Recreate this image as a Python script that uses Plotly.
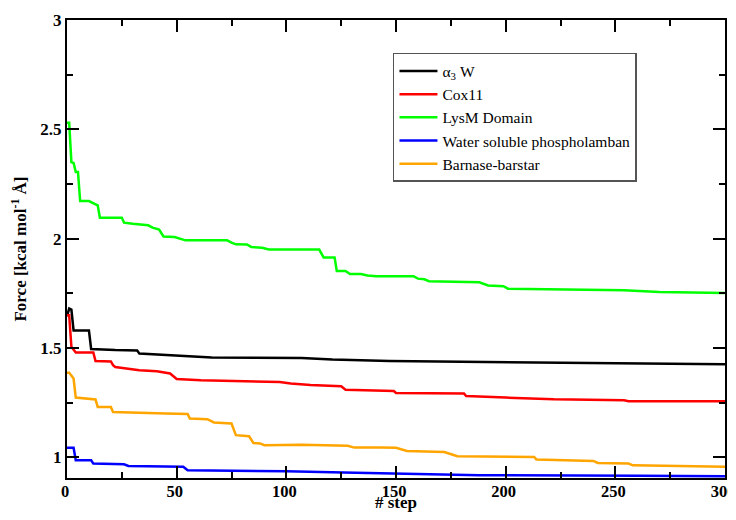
import plotly.graph_objects as go

# ---- data ----
black_x = [0, 1, 2, 3, 10, 11, 22, 32, 33, 49, 55, 66, 107, 121, 147, 181, 243, 300]
black_y = [1.645, 1.68, 1.675, 1.58, 1.58, 1.495, 1.49, 1.488, 1.474, 1.466, 1.462, 1.456, 1.454, 1.447, 1.44, 1.436, 1.43, 1.425]

red_x = [0, 1, 2, 4, 12, 13, 20, 21, 22, 27, 33, 41, 47, 50, 61, 97, 102, 111, 116, 125, 127, 149, 150, 181, 182, 190, 200, 222, 254, 256, 300]
red_y = [1.65, 1.65, 1.505, 1.479, 1.479, 1.44, 1.438, 1.421, 1.413, 1.405, 1.398, 1.393, 1.383, 1.358, 1.352, 1.344, 1.337, 1.33, 1.329, 1.325, 1.309, 1.303, 1.294, 1.291, 1.28, 1.276, 1.273, 1.265, 1.261, 1.256, 1.256]

green_x = [0, 1, 2, 3, 4, 5, 6, 10, 14, 15, 25, 26, 30, 37, 39, 42, 44, 49, 54, 73, 75, 77, 82, 84, 89, 92, 115, 117, 122, 123, 127, 129, 134, 137, 141, 158, 160, 163, 165, 188, 192, 199, 201, 254, 270, 300]
green_y = [2.53, 2.53, 2.35, 2.346, 2.305, 2.305, 2.172, 2.172, 2.152, 2.096, 2.096, 2.073, 2.068, 2.061, 2.05, 2.041, 2.01, 2.007, 1.992, 1.992, 1.982, 1.974, 1.973, 1.962, 1.958, 1.95, 1.95, 1.914, 1.914, 1.852, 1.852, 1.838, 1.838, 1.831, 1.828, 1.828, 1.817, 1.814, 1.805, 1.80, 1.786, 1.782, 1.771, 1.764, 1.756, 1.751]

blue_x = [0, 1, 3, 4, 11, 12, 26, 28, 53, 55, 100, 126, 150, 173, 188, 261, 300]
blue_y = [1.043, 1.043, 1.043, 0.986, 0.986, 0.971, 0.968, 0.96, 0.956, 0.94, 0.936, 0.93, 0.925, 0.921, 0.918, 0.915, 0.913]

orange_x = [0, 1, 3, 4, 13, 14, 20, 21, 45, 55, 56, 64, 67, 75, 77, 83, 85, 88, 90, 107, 128, 131, 143, 150, 155, 172, 178, 213, 214, 240, 242, 256, 258, 300]
orange_y = [1.386, 1.386, 1.36, 1.273, 1.264, 1.23, 1.23, 1.207, 1.2, 1.198, 1.177, 1.174, 1.159, 1.154, 1.101, 1.096, 1.065, 1.063, 1.055, 1.057, 1.052, 1.044, 1.044, 1.043, 1.029, 1.024, 1.005, 1.001, 0.99, 0.983, 0.974, 0.971, 0.963, 0.956]

series_names = ["α<sub>3</sub> W", "Cox11", "LysM Domain", "Water soluble phospholamban", "Barnase-barstar"]
series_colors = ["#000000", "#ff0000", "#00ff00", "#0000ff", "#ffa500"]
series_x = [black_x, red_x, green_x, blue_x, orange_x]
series_y = [black_y, red_y, green_y, blue_y, orange_y]

x_ticks = [0, 50, 100, 150, 200, 250, 300]
y_ticks = [1, 1.5, 2, 2.5, 3]

fig = go.Figure()
for name, color, xs, ys in zip(series_names, series_colors, series_x, series_y):
    fig.add_trace(go.Scatter(x=xs, y=ys, mode="lines", name=name,
                             line=dict(color=color, width=2.5)))

serif = "Times New Roman, Liberation Serif, serif"
tickfont = dict(family=serif, size=17, color="black", weight="bold")

axis_common = dict(
    showgrid=False, zeroline=False, showline=True, linecolor="black", linewidth=2,
    mirror="allticks", ticks="inside", ticklen=12, tickwidth=1.5, tickcolor="black",
    automargin=False,
)

# The page body adds an 8px offset, so the figure is sized/margined to compensate
# (height kept so the page does not overflow vertically).
fig.update_layout(
    width=736, height=504,
    margin=dict(l=59, r=19, t=12, b=34),
    paper_bgcolor="white", plot_bgcolor="white",
    font=dict(family=serif, color="black"),
    xaxis=dict(range=[0, 300], tickvals=x_ticks, ticktext=[str(v) for v in x_ticks],
               tickfont=dict(family=serif, size=16.5, color="black", weight="bold"),
               ticklabeloverflow="allow", ticklabelstandoff=-3, ticklabelshift=-2,
               minor=dict(dtick=25, tick0=0, ticks="inside", ticklen=6, tickwidth=1.5, tickcolor="black"),
               title=dict(text="# step", font=dict(family=serif, size=17, color="black", weight="bold"), standoff=6),
               **axis_common),
    yaxis=dict(range=[0.905, 3], tickvals=y_ticks, ticktext=["1", "1.5", "2", "2.5", "3"],
               tickfont=tickfont,
               minor=dict(dtick=0.25, tick0=0, ticks="inside", ticklen=6, tickwidth=1.5, tickcolor="black"),
               title=dict(text="Force [kcal mol<sup>-1</sup> Å]", font=dict(family=serif, size=17, color="black", weight="bold"), standoff=10),
               **axis_common),
    legend=dict(x=0.4954, y=0.928, xanchor="left", yanchor="top",
                bgcolor="white", bordercolor="#555555", borderwidth=1.5,
                font=dict(family=serif, size=15.5, color="black"),
                tracegroupgap=0, itemwidth=38),
    showlegend=True,
)

fig.write_html("out.html")
